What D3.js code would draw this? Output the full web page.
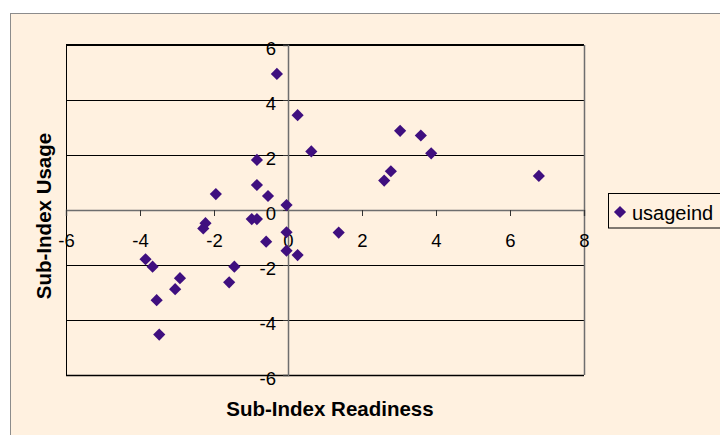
<!DOCTYPE html>
<html>
<head>
<meta charset="utf-8">
<script src="https://cdn.jsdelivr.net/npm/d3@7"></script>
<style>
  html, body { margin: 0; padding: 0; background: #ffffff; }
  svg { display: block; font-family: Arial, "Liberation Sans", sans-serif; }
</style>
</head>
<body>
<svg id="chart" width="720" height="435"></svg>
<script>
// Readiness (x) and usage (y) sub-index scores, one entry per country
const readiness = [-0.3, 0.26, 0.63, -0.84, -0.84, -1.95, -0.54, -0.04, -0.98, -0.84,
                   -2.23, -2.29, -0.04, -0.59, -0.04, 0.26, -3.85, -3.66, -2.92, -3.05,
                   -3.55, -3.48, -1.45, -1.59, 1.37, 3.03, 3.59, 3.87, 2.78, 2.60, 6.78];
const usage     = [4.95, 3.45, 2.13, 1.82, 0.91, 0.58, 0.51, 0.18, -0.33, -0.33,
                   -0.48, -0.67, -0.81, -1.15, -1.48, -1.64, -1.79, -2.06, -2.48, -2.88,
                   -3.28, -4.53, -2.06, -2.63, -0.82, 2.88, 2.71, 2.06, 1.41, 1.07, 1.24];
const xTicks = [-6, -4, -2, 0, 2, 4, 6, 8];
const yTicks = [-6, -4, -2, 0, 2, 4, 6];
const seriesName = "usageind";

const svg = d3.select("#chart");
const plotL = 66, plotR = 584, plotT = 45, plotB = 375;

const x = d3.scaleLinear().domain([-6, 8]).range([plotL, plotR]);
const y = d3.scaleLinear().domain([-6, 6]).range([plotB, plotT]);

// chart area
svg.append("rect").attr("x", 10.5).attr("y", 13.5).attr("width", 720).attr("height", 430)
  .attr("fill", "#fff1e0").attr("stroke", "#8c8c8c").attr("stroke-width", 1);

// horizontal gridlines
svg.append("g").selectAll("line").data(yTicks.filter(d => d !== 0)).join("line")
  .attr("x1", plotL).attr("x2", plotR)
  .attr("y1", d => Math.round(y(d)) + 0.5).attr("y2", d => Math.round(y(d)) + 0.5)
  .attr("stroke", "#000").attr("stroke-width", 1);

// plot area border
svg.append("line").attr("x1", plotL).attr("x2", plotR).attr("y1", plotT).attr("y2", plotT)
  .attr("stroke", "#000").attr("stroke-width", 2);
svg.append("line").attr("x1", plotL + 0.5).attr("x2", plotL + 0.5).attr("y1", plotT).attr("y2", plotB)
  .attr("stroke", "#000").attr("stroke-width", 1);
svg.append("line").attr("x1", plotL).attr("x2", plotR).attr("y1", plotB + 0.5).attr("y2", plotB + 0.5)
  .attr("stroke", "#000").attr("stroke-width", 1.5);
svg.append("line").attr("x1", plotR + 0.5).attr("x2", plotR + 0.5).attr("y1", plotT).attr("y2", plotB)
  .attr("stroke", "#6e6e6e").attr("stroke-width", 1.5);

// axes crossing at the origin
const fmt = d => d < 0 ? "-" + Math.abs(d) : String(d);
const xAxis = d3.axisBottom(x).tickValues(xTicks).tickSize(6).tickFormat(fmt);
const yAxis = d3.axisLeft(y).tickValues(yTicks).tickSize(5).tickFormat(fmt);

const gx = svg.append("g").attr("transform", `translate(0,${y(0)})`).call(xAxis);
gx.select(".domain").attr("stroke", "#6e6e6e").attr("stroke-width", 1.5);
gx.selectAll(".tick line").attr("stroke", "#333");
gx.selectAll(".tick text").attr("font-size", 18.5).attr("fill", "#000").attr("y", 36.5).attr("dy", 0);

const gy = svg.append("g").attr("transform", `translate(${x(0)},0)`).call(yAxis);
gy.select(".domain").attr("stroke", "#6e6e6e").attr("stroke-width", 1.5);
gy.selectAll(".tick line").attr("stroke", "#333");
gy.selectAll(".tick text").attr("font-size", 18.5).attr("fill", "#000").attr("x", -12).attr("y", 9).attr("dy", 0);

// markers
const diamond = d3.symbol().type(d3.symbolSquare).size(74);
svg.append("g").selectAll("path").data(readiness.map((r, i) => [r, usage[i]])).join("path")
  .attr("d", diamond)
  .attr("transform", d => `translate(${x(d[0])},${y(d[1])}) rotate(45)`)
  .attr("fill", "#3f0f7f");

// axis titles
svg.append("text").attr("x", 330).attr("y", 416).attr("text-anchor", "middle")
  .attr("font-size", 20.5).attr("font-weight", "bold").text("Sub-Index Readiness");
svg.append("text").attr("transform", "translate(50.5,216) rotate(-90)").attr("text-anchor", "middle")
  .attr("font-size", 20.5).attr("font-weight", "bold").text("Sub-Index Usage");

// legend
const lg = svg.append("g");
lg.append("rect").attr("x", 608.5).attr("y", 193.5).attr("width", 112).attr("height", 34.5)
  .attr("fill", "#fff1e0").attr("stroke", "#000").attr("stroke-width", 1);
lg.append("path").attr("d", diamond).attr("transform", "translate(620,212) rotate(45)").attr("fill", "#3f0f7f");
lg.append("text").attr("x", 632).attr("y", 220).attr("font-size", 20).text(seriesName);
</script>
</body>
</html>
